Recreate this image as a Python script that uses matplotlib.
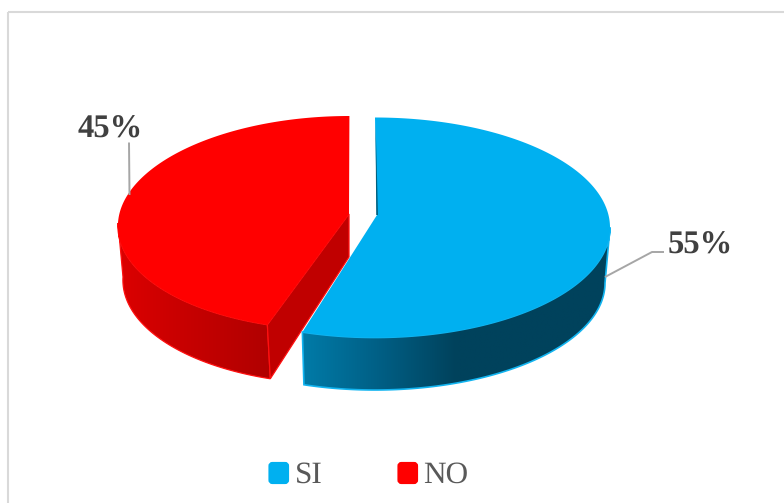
import numpy as np
import matplotlib
matplotlib.use("Agg")
import matplotlib.pyplot as plt
from matplotlib.colors import LinearSegmentedColormap
from matplotlib.patches import FancyBboxPatch, Polygon, Rectangle

categories = ["SI", "NO"]
shares = [55, 45]
top_colors = ["#00B0F0", "#FF0000"]

plt.rcParams["font.family"] = ["Liberation Serif", "DejaVu Serif"]
plt.rcParams["text.hinting"] = "no_hinting"

W, H = 784, 503
fig = plt.figure(figsize=(W / 100, H / 100), dpi=100, facecolor="white")
ax = fig.add_axes([0, 0, 1, 1])
ax.set_axis_off()


def arc(theta_deg, cx, cy, rx, ry, lean=0.0):
    """Clockwise-from-top ellipse points; lean shears x against y for the view angle."""
    t = np.radians(theta_deg)
    y_off = -ry * np.cos(t)
    return np.column_stack([cx + rx * np.sin(t) + lean * y_off, cy + y_off])


def gradient_fill(poly_xy, stops, zorder):
    """Fill a polygon with a horizontal colour ramp across its width."""
    x0, x1 = poly_xy[:, 0].min(), poly_xy[:, 0].max()
    y0, y1 = poly_xy[:, 1].min(), poly_xy[:, 1].max()
    cmap = LinearSegmentedColormap.from_list("side", stops)
    img = ax.imshow(np.linspace(0, 1, 256)[None, :], cmap=cmap, aspect="auto",
                    extent=(x0, x1, y1, y0), zorder=zorder, interpolation="bilinear")
    clip = Polygon(poly_xy, closed=True, transform=ax.transData, facecolor="none", edgecolor="none")
    ax.add_patch(clip)
    img.set_clip_path(clip)


# Slice angles follow directly from the shares, clockwise from twelve o'clock.
sweep = np.array(shares) / sum(shares) * 360
split = sweep[0]

# Red slice: pulled out to the left, drawn first so the blue one sits in front.
red_top = dict(cx=343, cy=223, rx=225, ry=107, lean=-0.06)
red_low = dict(cx=345, cy=277, rx=222, ry=107, lean=-0.06)
red_apex = (349, 214)
red_apex_low = (349, 257)

theta = np.linspace(split, split + sweep[1], 200)
red_face = arc(theta, **red_top)

theta_side = np.linspace(split, 270, 120)
red_side = np.vstack([arc(theta_side, **red_top), arc(theta_side, **red_low)[::-1]])
gradient_fill(red_side, ["#DC0000", "#CC0000", "#BE0000", "#B00000"], 2)
ax.add_patch(Polygon(red_side, closed=True, facecolor="none", edgecolor="#FF1010", lw=0.9, zorder=3))

front_top = arc(np.array([split]), **red_top)[0]
front_low = arc(np.array([split]), **red_low)[0]
ax.add_patch(Polygon([red_apex, front_top, front_low, red_apex_low], closed=True,
                     facecolor="#C00000", edgecolor="#FF1010", lw=0.9, zorder=3))
ax.add_patch(Polygon(np.vstack([[red_apex], red_face]), closed=True,
                     facecolor=top_colors[1], edgecolor="none", zorder=4))

# Blue slice: top face over a dark shaded rim.
blue_top = dict(cx=375, cy=227.5, rx=235, ry=110)
blue_low = dict(cx=375, cy=283, rx=230, ry=107)
blue_apex = (377, 215)

theta = np.linspace(0, split, 240)
blue_face = arc(theta, **blue_top)

theta_side = np.linspace(90, split, 140)
blue_side = np.vstack([arc(theta_side, **blue_top), arc(theta_side, **blue_low)[::-1]])
gradient_fill(blue_side, ["#007BA8", "#005F85", "#00425C", "#00425C", "#00425C"], 5)
ax.add_patch(Polygon(blue_side, closed=True, facecolor="none", edgecolor="#12B4F0", lw=1.2, zorder=6))
ax.add_patch(Polygon(np.vstack([[blue_apex], blue_face]), closed=True,
                     facecolor=top_colors[0], edgecolor="none", zorder=7))

# Thin sliver of the far inner wall next to the gap.
ax.add_patch(Polygon([(375.5, 122), (376.2, 215), (378, 215), (376.6, 160)], closed=True,
                     facecolor="#00607F", edgecolor="none", zorder=8))

# Leader lines and value labels.
leader = "#A6A6A6"
ax.plot([129, 129.5], [142.5, 195], color=leader, lw=1.4, zorder=9, solid_capstyle="butt")
ax.plot([605, 652, 664], [277, 252, 252], color=leader, lw=1.4, zorder=9, solid_capstyle="butt")
ax.text(110.5, 138, f"{shares[1]}%", fontsize=23.5, fontweight="bold", color="#404040",
        ha="center", va="baseline", zorder=10)
ax.text(700.5, 253.5, f"{shares[0]}%", fontsize=23.5, fontweight="bold", color="#404040",
        ha="center", va="baseline", zorder=10)

# Legend along the bottom.
for name, colour, box_x, text_x in zip(categories, top_colors, [268.5, 397.5], [295, 423]):
    ax.add_patch(FancyBboxPatch((box_x + 2, 464), 16.5, 18, boxstyle="round,pad=0,rounding_size=2",
                                mutation_aspect=1, facecolor=colour, edgecolor=colour, lw=3, zorder=10))
    ax.text(text_x, 483, name, fontsize=22.5, color="#595959", ha="left", va="baseline", zorder=10)

# Chart frame: only the top and left edges fall inside the canvas.
ax.add_patch(Rectangle((8, 12), 900, 700, facecolor="none", edgecolor="#D9D9D9", lw=1.5, zorder=1))

ax.set_xlim(0, W)
ax.set_ylim(H, 0)
fig.savefig("out.png", dpi=100, facecolor="white")
